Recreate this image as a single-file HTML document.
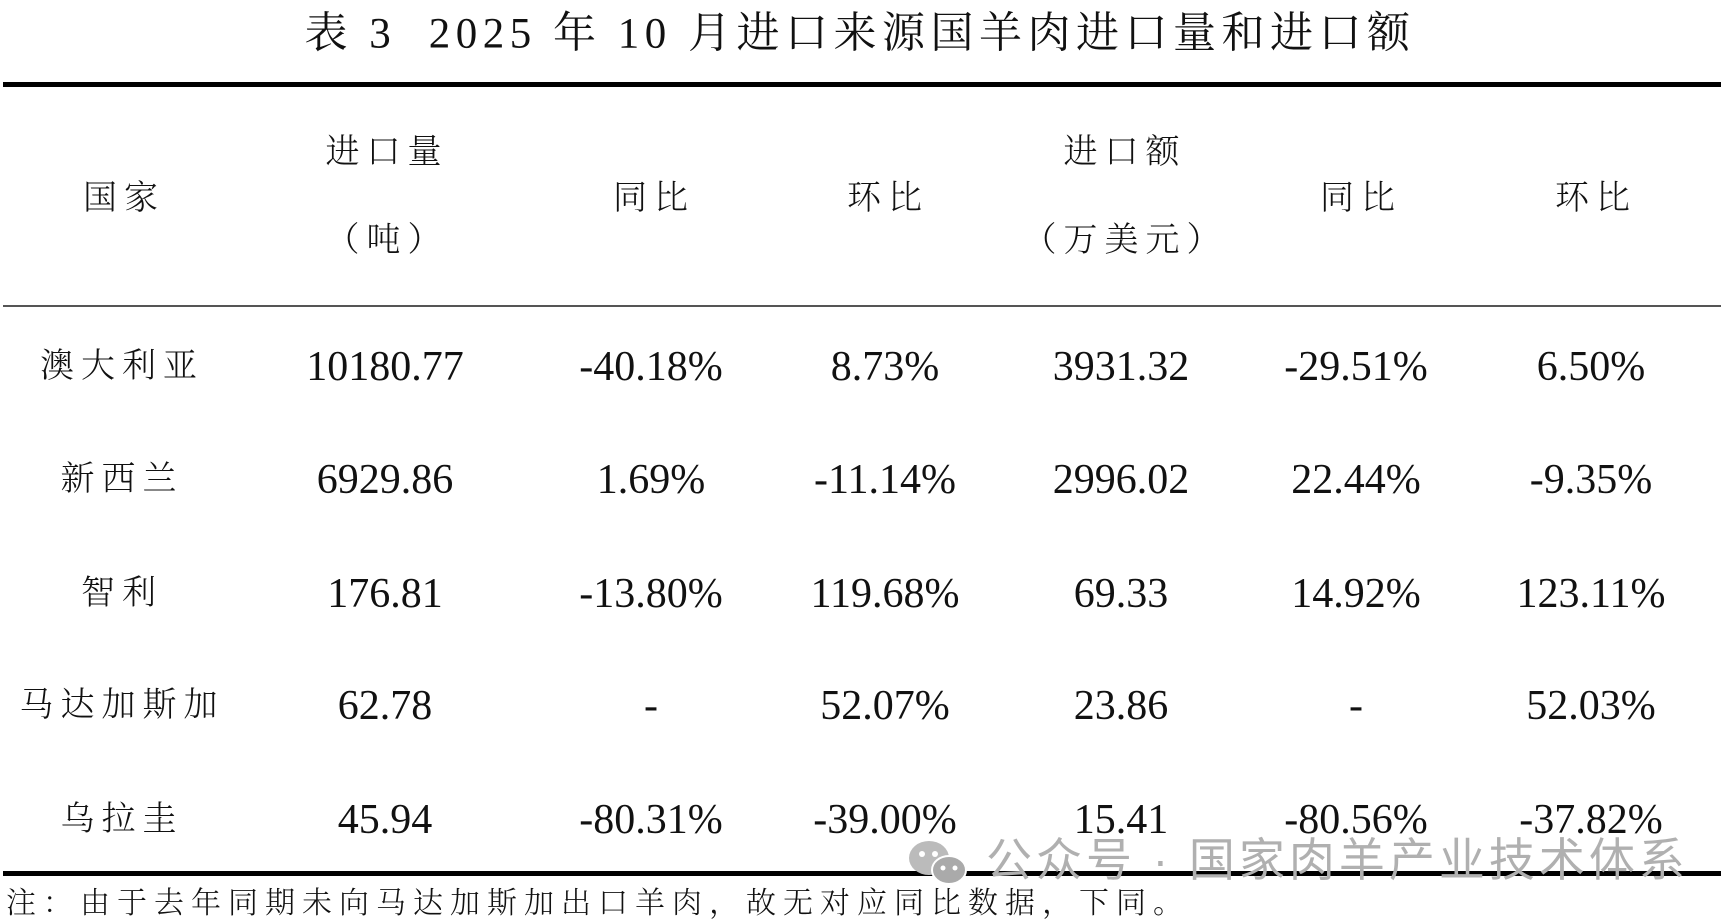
<!DOCTYPE html>
<html><head><meta charset="utf-8"><style>
body{margin:0;width:1726px;height:923px;background:#fff;position:relative;overflow:hidden;font-family:"Liberation Serif","Noto Serif CJK SC",serif;color:#111}
.t{position:absolute;white-space:nowrap;transform:translate(-50%,-50%);line-height:1}
.n{font-size:42px}
.c{font-size:34px;letter-spacing:7px;font-family:"Liberation Serif","Noto Serif CJK SC",serif;font-weight:300}
.line{position:absolute;left:3px;width:1718px;background:#000}
</style></head><body>
<div class="t" style="left:860px;top:34px;font-size:43px;letter-spacing:5.5px">表 3&nbsp; 2025 年 10 月进口来源国羊肉进口量和进口额</div>
<div class="line" style="top:82px;height:5px"></div>
<div class="line" style="top:305px;height:2px;background:#555"></div>
<div class="line" style="top:871px;height:5px"></div>

<div class="t c" style="left:124px;top:199px">国家</div>
<div class="t c" style="left:387px;top:153px">进口量</div>
<div class="t c" style="left:387px;top:241px">（吨）</div>
<div class="t c" style="left:654px;top:199px">同比</div>
<div class="t c" style="left:888px;top:199px">环比</div>
<div class="t c" style="left:1125px;top:153px">进口额</div>
<div class="t c" style="left:1125px;top:241px">（万美元）</div>
<div class="t c" style="left:1361px;top:199px">同比</div>
<div class="t c" style="left:1596px;top:199px">环比</div>

<div class="t c" style="left:122px;top:367px">澳大利亚</div>
<div class="t n" style="left:385px;top:367px">10180.77</div>
<div class="t n" style="left:651px;top:367px">-40.18%</div>
<div class="t n" style="left:885px;top:367px">8.73%</div>
<div class="t n" style="left:1121px;top:367px">3931.32</div>
<div class="t n" style="left:1356px;top:367px">-29.51%</div>
<div class="t n" style="left:1591px;top:367px">6.50%</div>

<div class="t c" style="left:122px;top:480px">新西兰</div>
<div class="t n" style="left:385px;top:480px">6929.86</div>
<div class="t n" style="left:651px;top:480px">1.69%</div>
<div class="t n" style="left:885px;top:480px">-11.14%</div>
<div class="t n" style="left:1121px;top:480px">2996.02</div>
<div class="t n" style="left:1356px;top:480px">22.44%</div>
<div class="t n" style="left:1591px;top:480px">-9.35%</div>

<div class="t c" style="left:122px;top:594px">智利</div>
<div class="t n" style="left:385px;top:594px">176.81</div>
<div class="t n" style="left:651px;top:594px">-13.80%</div>
<div class="t n" style="left:885px;top:594px">119.68%</div>
<div class="t n" style="left:1121px;top:594px">69.33</div>
<div class="t n" style="left:1356px;top:594px">14.92%</div>
<div class="t n" style="left:1591px;top:594px">123.11%</div>

<div class="t c" style="left:122px;top:706px">马达加斯加</div>
<div class="t n" style="left:385px;top:706px">62.78</div>
<div class="t n" style="left:651px;top:706px">-</div>
<div class="t n" style="left:885px;top:706px">52.07%</div>
<div class="t n" style="left:1121px;top:706px">23.86</div>
<div class="t n" style="left:1356px;top:706px">-</div>
<div class="t n" style="left:1591px;top:706px">52.03%</div>

<div class="t c" style="left:122px;top:820px">乌拉圭</div>
<div class="t n" style="left:385px;top:820px">45.94</div>
<div class="t n" style="left:651px;top:820px">-80.31%</div>
<div class="t n" style="left:885px;top:820px">-39.00%</div>
<div class="t n" style="left:1121px;top:820px">15.41</div>
<div class="t n" style="left:1356px;top:820px">-80.56%</div>
<div class="t n" style="left:1591px;top:820px">-37.82%</div>

<svg style="position:absolute;left:905px;top:834px" width="70" height="60">
<ellipse cx="24" cy="24" rx="20" ry="17" fill="#bbb"/>
<ellipse cx="44" cy="36" rx="17" ry="14" fill="#aaa" stroke="#fff" stroke-width="2"/>
<circle cx="17" cy="20" r="3" fill="#fff"/><circle cx="30" cy="20" r="3" fill="#fff"/>
<circle cx="38" cy="34" r="2.5" fill="#fff"/><circle cx="50" cy="34" r="2.5" fill="#fff"/>
</svg>
<div style="position:absolute;left:986px;top:837px;font-size:46px;color:#b0b0b0;font-family:'Liberation Sans','Noto Sans CJK SC',sans-serif;white-space:nowrap;letter-spacing:4px;line-height:1">公众号 · 国家肉羊产业技术体系</div>

<div style="position:absolute;left:6px;top:889px;font-size:30px;letter-spacing:7px;white-space:nowrap;line-height:1;font-weight:300">注：由于去年同期未向马达加斯加出口羊肉，故无对应同比数据，下同。</div>
</body></html>
